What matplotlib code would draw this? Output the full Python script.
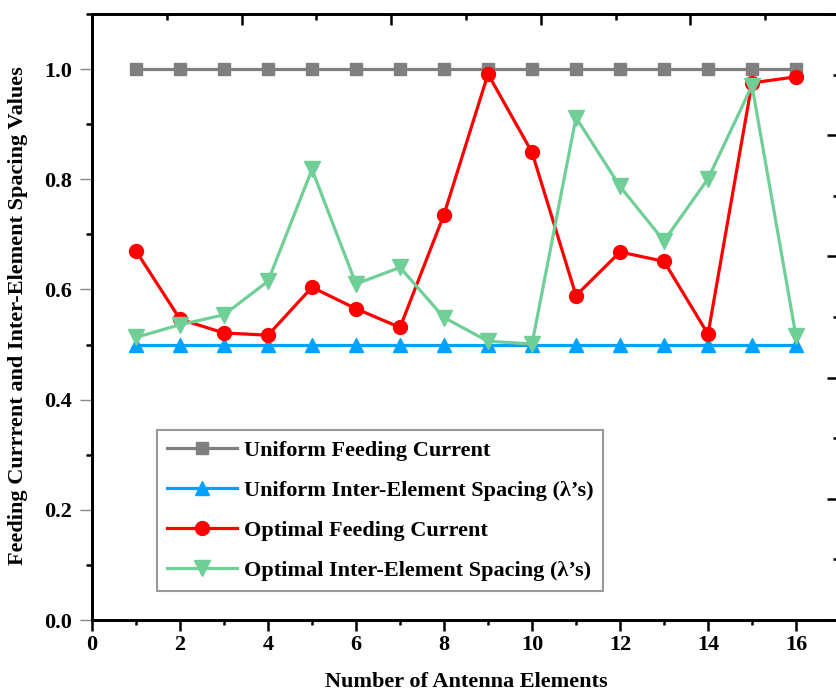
import matplotlib
matplotlib.use("Agg")
import matplotlib.pyplot as plt
from matplotlib.ticker import MultipleLocator, NullFormatter

plt.rcParams['font.family'] = ['Liberation Serif', 'DejaVu Serif']
plt.rcParams['font.weight'] = 'bold'

elements = list(range(1, 17))
uniform_current = [1.0] * 16
uniform_spacing = [0.5] * 16
optimal_current = [0.670, 0.546, 0.521, 0.517, 0.604, 0.565, 0.531, 0.736,
                   0.991, 0.849, 0.589, 0.668, 0.651, 0.519, 0.975, 0.986]
optimal_spacing = [0.513, 0.536, 0.554, 0.615, 0.818, 0.610, 0.640, 0.549,
                   0.506, 0.501, 0.912, 0.787, 0.688, 0.801, 0.970, 0.515]

labels = ["Uniform Feeding Current",
          "Uniform Inter-Element Spacing (\u03bb\u2019s)",
          "Optimal Feeding Current",
          "Optimal Inter-Element Spacing (\u03bb\u2019s)"]

W, H = 836, 693
FS = 16
fig = plt.figure(figsize=(W / 100, H / 100), dpi=100)
ax = fig.add_axes([92 / W, (H - 620) / H, 748 / W, 606 / H])

lw = 2.3
ax.plot(elements, uniform_current, color='#7f7f7f', lw=lw, marker='s', ms=9, label=labels[0], zorder=3)
ax.plot(elements, uniform_spacing, color='#00a2ff', lw=lw, marker='^', ms=10, label=labels[1], zorder=3)
ax.plot(elements, optimal_current, color='#ff0000', lw=lw, marker='o', ms=10, label=labels[2], zorder=4)
ax.plot(elements, optimal_spacing, color='#6fcf97', lw=lw, marker='v', ms=11, label=labels[3], zorder=4)

ax.set_xlim(0, 17)
ax.set_ylim(0, 1.1)
ax.xaxis.set_major_locator(MultipleLocator(2))
ax.xaxis.set_minor_locator(MultipleLocator(1))
ax.yaxis.set_minor_locator(MultipleLocator(0.1))
ax.set_yticks([0.0, 0.2, 0.4, 0.6, 0.8, 1.0])
ax.set_yticklabels(['0.0', '0.2', '0.4', '0.6', '0.8', '1.0'])

for s in ax.spines.values():
    s.set_linewidth(1.8)

ax.tick_params(axis='x', which='major', direction='out', length=8, width=1.8, labelsize=FS, pad=3)
ax.tick_params(axis='x', which='minor', direction='out', length=3.6, width=1.8)
ax.tick_params(axis='y', which='major', direction='out', length=8.6, width=1, color='#888888', labelsize=FS, pad=6)
ax.tick_params(axis='y', which='minor', direction='out', length=4.3, width=1.8, color='black')
for t in ax.get_xticklabels() + ax.get_yticklabels():
    t.set_fontweight('bold')

fig.text(466 / W, 1 - 687 / H, "Number of Antenna Elements", fontsize=FS, fontweight='bold',
         ha='center', va='baseline')
fig.text(18 / W, 1 - 316 / H, "Feeding Currrent and Inter-Element Spacing Values", fontsize=FS,
         fontweight='bold', rotation=90, ha='center', va='center')

# top and right decorative axes (ticks only, labels cut off)
axt = ax.twiny()
axt.set_xlim(0, 10)
axt.xaxis.set_major_locator(MultipleLocator(2))
axt.xaxis.set_minor_locator(MultipleLocator(1))
axt.tick_params(axis='x', which='major', direction='in', length=8, width=1.8, labeltop=False)
axt.tick_params(axis='x', which='minor', direction='in', length=4.3, width=1.8)
axt.xaxis.set_major_formatter(NullFormatter())

axr = ax.twinx()
axr.set_ylim(0, 5)
axr.yaxis.set_major_locator(MultipleLocator(1))
axr.yaxis.set_minor_locator(MultipleLocator(0.5))
axr.tick_params(axis='y', which='major', direction='in', length=9.5, width=1.8, labelright=False)
axr.tick_params(axis='y', which='minor', direction='in', length=5, width=1.8)
axr.yaxis.set_major_formatter(NullFormatter())
for a in (axt, axr):
    for s in a.spines.values():
        s.set_linewidth(1.8)

leg = ax.legend(loc='lower left', bbox_to_anchor=(0.087, 0.048), borderaxespad=0,
                prop={'family': 'Liberation Serif', 'weight': 'bold', 'size': FS},
                handlelength=3.15, labelspacing=0.88, handletextpad=0.3,
                fancybox=False, edgecolor='#999999', framealpha=1, borderpad=0.45)
leg.get_frame().set_linewidth(1.5)
leg.set_zorder(10)

fig.savefig("out.png", dpi=100)
